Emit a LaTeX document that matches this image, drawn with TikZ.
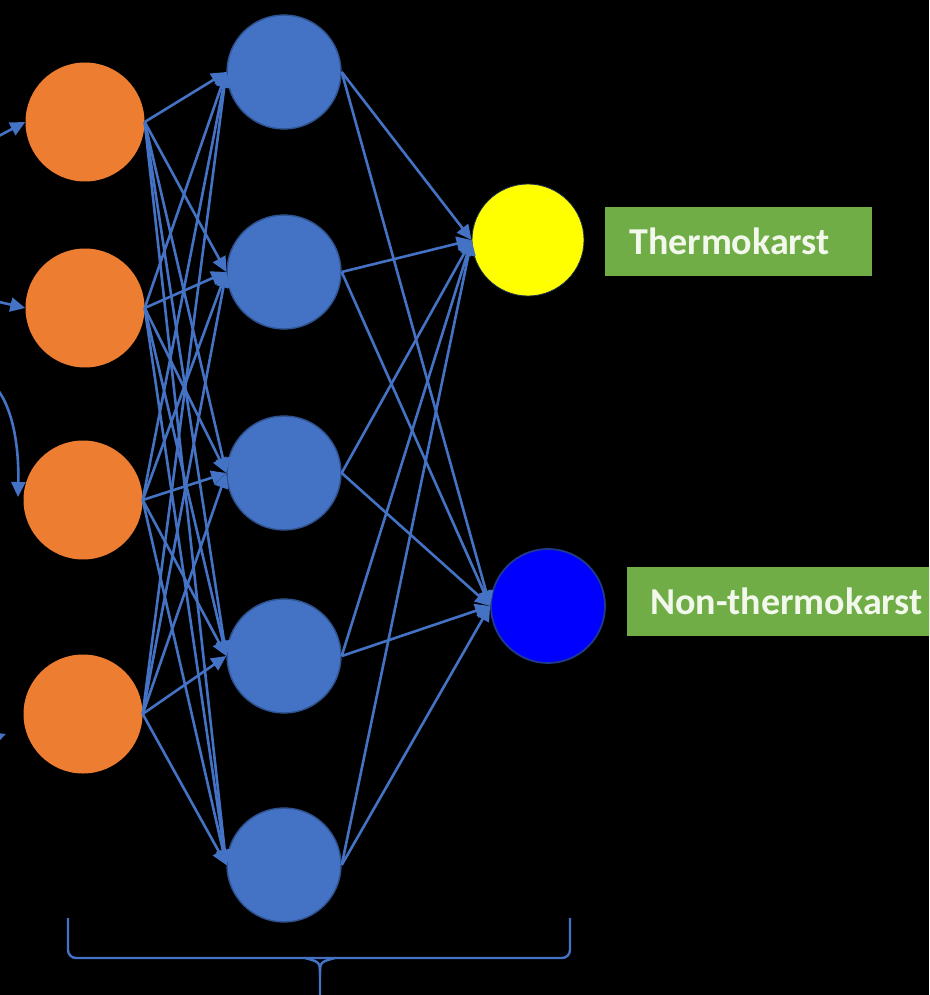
\documentclass[tikz,border=0pt]{standalone}
\usepackage{fontspec}
\setmainfont{Carlito}
\usetikzlibrary{arrows.meta}
\definecolor{lineblue}{HTML}{4472C4}
\definecolor{hidblue}{HTML}{4472C4}
\definecolor{hidedge}{HTML}{2F528F}
\definecolor{inorange}{HTML}{ED7D31}
\definecolor{outyellow}{HTML}{FFFF00}
\definecolor{outblue}{HTML}{0000FF}
\definecolor{outedge}{HTML}{1F3A8A}
\definecolor{labgreen}{HTML}{70AD47}
\definecolor{labtext}{HTML}{F2F8EC}
\tikzset{
  onode/.style={circle, fill=inorange, minimum size=119pt, inner sep=0pt},
  hnode/.style={circle, fill=hidblue, draw=hidedge, line width=1.4pt, minimum size=114pt, inner sep=0pt},
  ynode/.style={circle, fill=outyellow, draw=hidedge!60!black, line width=0.8pt, minimum size=112pt, inner sep=0pt},
  bnode/.style={circle, fill=outblue, draw=outedge, line width=1.8pt, minimum size=114pt, inner sep=0pt},
  conn/.style={draw=lineblue, line width=2.6pt, -{Triangle[length=15pt,width=14pt]}},
  lab/.style={rectangle, fill=labgreen, text=labtext, anchor=west, align=left,
    minimum height=69pt, inner ysep=0pt, font=\fontsize{38}{45}\selectfont\bfseries},
  bracestyle/.style={draw=lineblue, line width=2.4pt, rounded corners=8pt}
}
\begin{document}
\begin{tikzpicture}[x=1pt,y=-1pt]
\fill[black] (0,0) rectangle (929,995);
\useasboundingbox (0,0) rectangle (929,995);
\clip (0,0) rectangle (929,995);
% input layer
\node[onode] (i1) at (85,122) {};
\node[onode] (i2) at (85,308) {};
\node[onode] (i3) at (83,500) {};
\node[onode] (i4) at (83,714) {};
% hidden layer
\node[hnode] (h1) at (284,72) {};
\node[hnode] (h2) at (284,272) {};
\node[hnode] (h3) at (284,473) {};
\node[hnode] (h4) at (284,656) {};
\node[hnode] (h5) at (284,865) {};
% output layer
\node[ynode] (o1) at (528,240) {};
\node[bnode] (o2) at (548,606) {};
% labels
\node[lab, inner xsep=24pt, text width=219pt] (l1) at (605,241.5) {Thermokarst};
\node[lab, inner xsep=23pt, text width=290pt] (l2) at (627,601) {Non-thermokarst};
% connections input -> hidden
\foreach \i in {1,...,4}{
  \foreach \h in {1,...,5}{
    \draw[conn] (i\i.east) -- (h\h.west);
  }
}
% connections hidden -> output
\foreach \h in {1,...,5}{
  \draw[conn] (h\h.east) -- (o1.west);
  \draw[conn] (h\h.east) -- (o2.west);
}
% incoming arrows from left
\coordinate (a1) at (-5,138);
\coordinate (a2) at (-5,301);
\coordinate (a3) at (-2,390);
\coordinate (t3) at (18,497);
\coordinate (a4) at (-40,750);
\coordinate (t4) at (6,734);
\draw[conn] (a1) -- (i1.west);
\draw[conn] (a2) -- (i2.west);
\draw[conn] (a3) .. controls (14,412) and (19,450) .. (t3);
\draw[conn] (a4) -- (t4);
% brace
\coordinate (b1) at (68,918);
\coordinate (b2) at (570,918);
\coordinate (bc) at (320,958);
\coordinate (bb) at (320,1000);
\draw[bracestyle] (b1) -- (68,958) -- (bc) -- (570,958) -- (b2);
\draw[draw=lineblue, line width=2.4pt] (bb) -- (320,975) .. controls (320,962) .. (305,958);
\draw[draw=lineblue, line width=2.4pt] (320,975) .. controls (320,962) .. (335,958);
\end{tikzpicture}
\end{document}
